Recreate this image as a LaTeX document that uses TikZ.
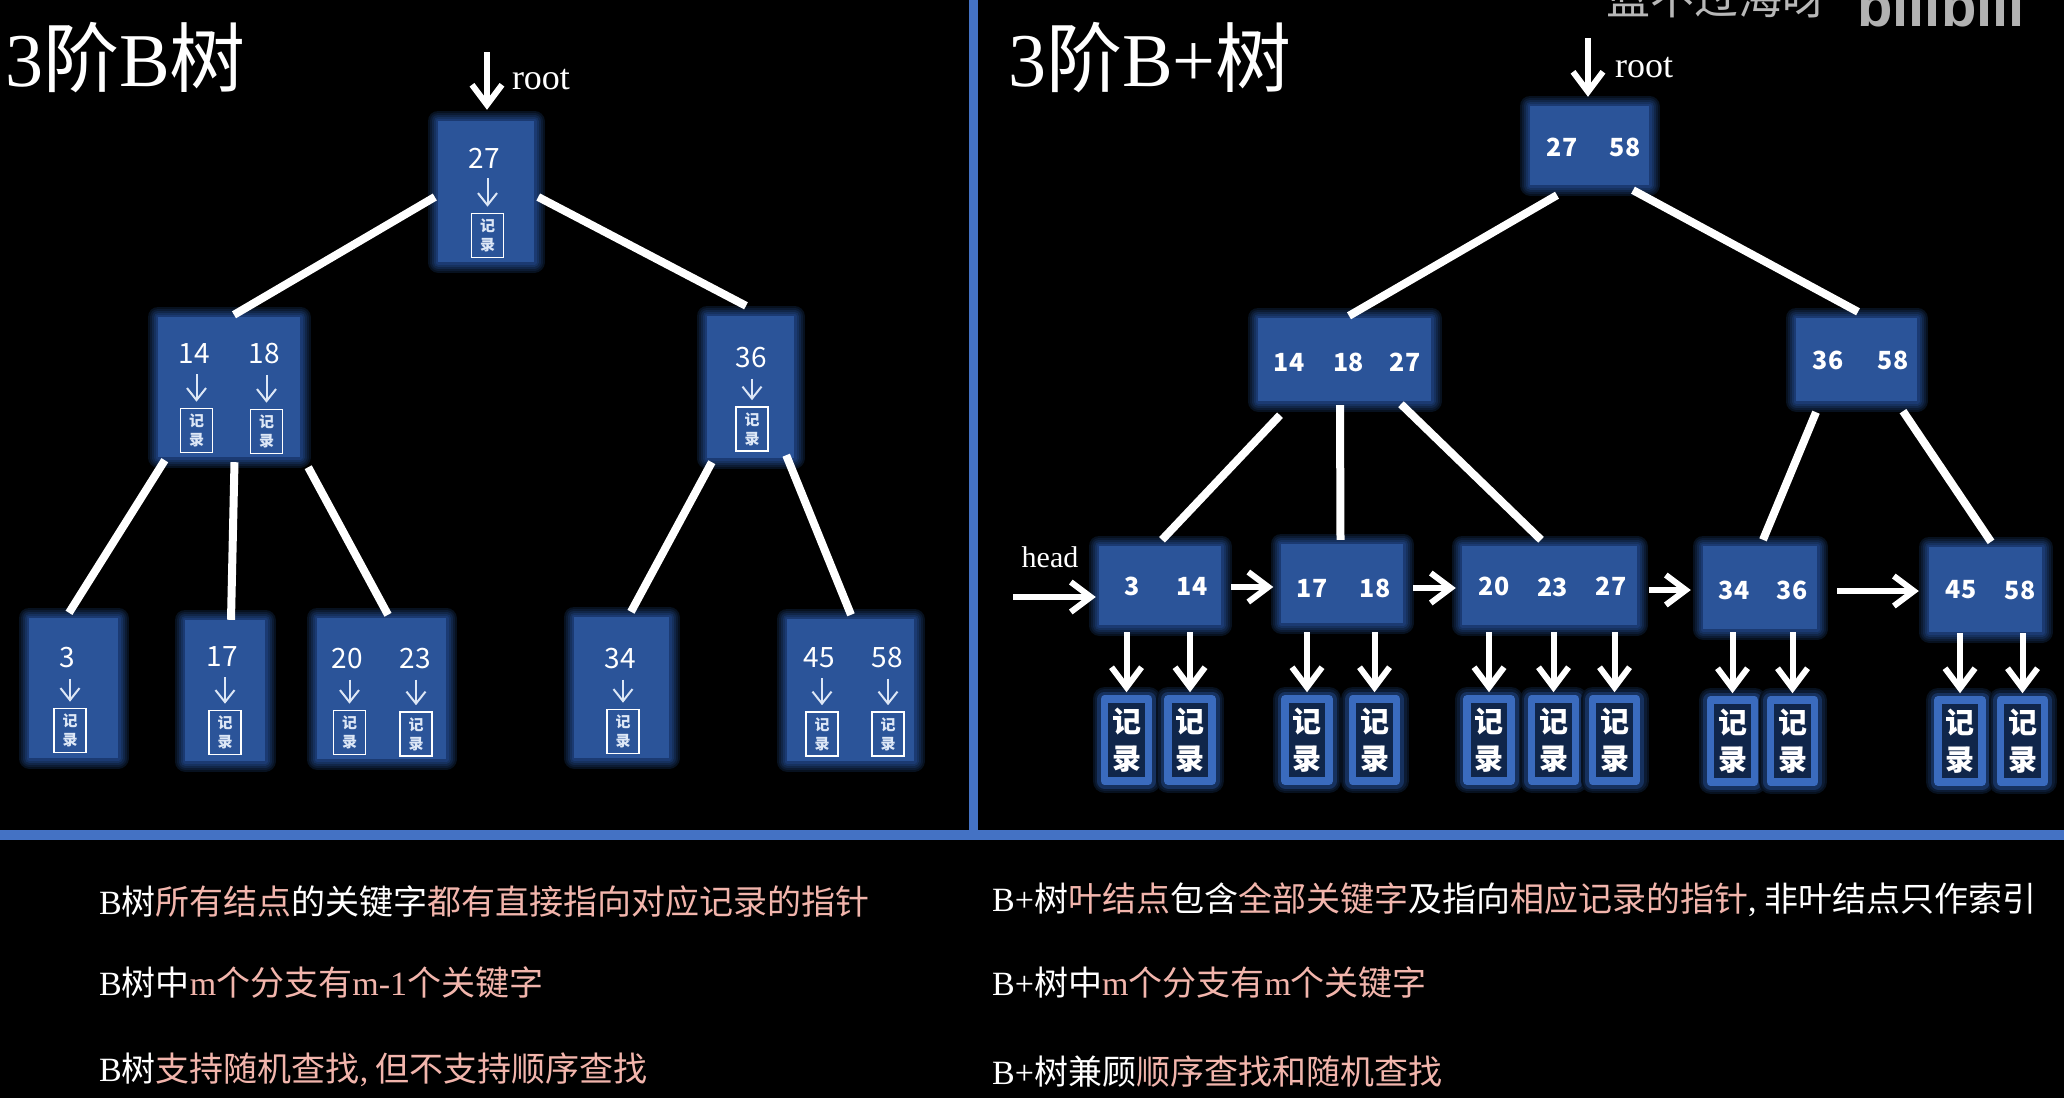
\documentclass[tikz,border=0pt]{standalone}
\usepackage{fontspec}
\usepackage{xcolor}
\usetikzlibrary{arrows.meta}
\setmainfont{Noto Sans CJK SC}
\newfontfamily\lat{Liberation Serif}
\newfontfamily\logofont{Liberation Sans}
\definecolor{nodeblue}{HTML}{2B5499}
\definecolor{glowa}{HTML}{07111F}
\definecolor{glowb}{HTML}{0C1B33}
\definecolor{glowc}{HTML}{112648}
\definecolor{glowd}{HTML}{16315E}
\definecolor{glowe}{HTML}{1B3A72}
\definecolor{framecol}{HTML}{4472C4}
\definecolor{recedge}{HTML}{3A6BBE}
\definecolor{recfill}{HTML}{10264A}
\definecolor{pinktext}{HTML}{F2B5AC}
\definecolor{ptrcol}{HTML}{DDE7F6}
\newcommand{\pk}[1]{\textcolor{pinktext}{#1}}
\tikzset{
  keybox/.style={fill=nodeblue,inner sep=0pt,line join=round,
    preaction={draw=glowa,line width=21pt},
    preaction={draw=glowb,line width=17pt},
    preaction={draw=glowc,line width=13pt},
    preaction={draw=glowd,line width=9pt},
    preaction={draw=glowe,line width=5pt}},
  keytext/.style={text=white,inner sep=0pt,font=\fontsize{28}{30}\selectfont},
  idxtext/.style={text=white,inner sep=0pt,font=\bfseries\fontsize{25}{28}\selectfont},
  recsmall/.style={draw=white,line width=1.6pt,minimum width=32pt,minimum height=44pt,inner sep=0pt,
    align=center,text=ptrcol,font=\bfseries\fontsize{15}{19}\selectfont},
  recbig/.style={draw=recedge,fill=recfill,line width=7.5pt,minimum width=44pt,minimum height=82pt,inner sep=0pt,
    align=center,text=white,line join=round,font=\bfseries\fontsize{29}{37}\selectfont,
    preaction={draw=glowa,line width=24pt},
    preaction={draw=glowb,line width=20pt},
    preaction={draw=glowd,line width=15pt}},
  treeedge/.style={draw=white,line width=8pt},
  thinptr/.style={draw=ptrcol,line width=2pt,shorten <=10pt,shorten >=6pt,-{Straight Barb[length=12pt,width=19pt]}},
  fatptr/.style={draw=white,line width=6pt,-{Straight Barb[length=20pt,width=30pt]}},
  downptr/.style={fatptr,shorten >=3pt},
  note/.style={anchor=west,inner sep=0pt,text=white,font=\fontsize{34}{40}\selectfont},
  titletext/.style={anchor=west,inner sep=0pt,text=white,font=\fontsize{76}{84}\selectfont},
  latlabel/.style={inner sep=0pt,text=white,font=\lat\fontsize{36}{40}\selectfont},
}
\begin{document}
\begin{tikzpicture}[x=1pt,y=-1pt]
	\useasboundingbox (0,0) rectangle (2064,1098);
	\fill[black] (0,0) rectangle (2064,1098);

	% frame lines
	\fill[framecol] (969,0) rectangle (978,835);
	\fill[framecol] (0,830) rectangle (2064,840);

	% titles and marks
	\node[titletext] (titleb) at (5,58) {{\lat 3}阶{\lat B}树};
	\node[titletext] (titleplus) at (1008,58) {{\lat 3}阶{\lat B+}树};
	\node[inner sep=0pt,anchor=west,text=white!72!black,font=\fontsize{44}{48}\selectfont] (mark) at (1606,-2) {蓝不过海呀};
	\node[inner sep=0pt,anchor=base west,text=white!70!black,font=\logofont\bfseries\fontsize{58}{60}\selectfont] (logo) at (1857,26) {bilibili};

	% left tree, nodes
	\node[keybox,minimum width=96pt,minimum height=141pt] (b27) at (486,191.5) {};
	\node[keybox,minimum width=142pt,minimum height=140pt] (b1418) at (229,387) {};
	\node[keybox,minimum width=87pt,minimum height=142pt] (b36) at (750.5,387) {};
	\node[keybox,minimum width=89pt,minimum height=140pt] (b3) at (73.5,688) {};
	\node[keybox,minimum width=80pt,minimum height=141pt] (b17) at (225,690.5) {};
	\node[keybox,minimum width=129pt,minimum height=141pt] (b2023) at (381.5,688.5) {};
	\node[keybox,minimum width=95pt,minimum height=141pt] (b34) at (621.5,687.5) {};
	\node[keybox,minimum width=127pt,minimum height=142pt] (b4558) at (850.5,690) {};

	% left tree, keys
	\node[keytext] (k27) at (484,158) {27};
	\node[keytext] (k14) at (194,354) {14};
	\node[keytext] (k18) at (264,354) {18};
	\node[keytext] (k36) at (751,358) {36};
	\node[keytext] (k3) at (67,658) {3};
	\node[keytext] (k17) at (222,657) {17};
	\node[keytext] (k20) at (347,659) {20};
	\node[keytext] (k23) at (415,659) {23};
	\node[keytext] (k34) at (620,659) {34};
	\node[keytext] (k45) at (819,658) {45};
	\node[keytext] (k58) at (887,658) {58};

	% left tree, records
	\node[recsmall] (r27) at (487.5,235.5) {记\\录};
	\node[recsmall] (r14) at (196.5,430.5) {记\\录};
	\node[recsmall] (r18) at (266.5,431.5) {记\\录};
	\node[recsmall] (r36) at (752,429) {记\\录};
	\node[recsmall] (r3) at (70,730.5) {记\\录};
	\node[recsmall] (r17) at (225,732.5) {记\\录};
	\node[recsmall] (r20) at (349.5,732.5) {记\\录};
	\node[recsmall] (r23) at (416,734) {记\\录};
	\node[recsmall] (r34) at (623,731.5) {记\\录};
	\node[recsmall] (r45) at (822,734) {记\\录};
	\node[recsmall] (r58) at (888,734) {记\\录};

	% left tree, pointers
	\draw[thinptr] (k27.south -| r27.north) -- (r27.north);
	\draw[thinptr] (k14.south -| r14.north) -- (r14.north);
	\draw[thinptr] (k18.south -| r18.north) -- (r18.north);
	\draw[thinptr] (k36.south -| r36.north) -- (r36.north);
	\draw[thinptr] (k3.south -| r3.north) -- (r3.north);
	\draw[thinptr] (k17.south -| r17.north) -- (r17.north);
	\draw[thinptr] (k20.south -| r20.north) -- (r20.north);
	\draw[thinptr] (k23.south -| r23.north) -- (r23.north);
	\draw[thinptr] (k34.south -| r34.north) -- (r34.north);
	\draw[thinptr] (k45.south -| r45.north) -- (r45.north);
	\draw[thinptr] (k58.south -| r58.north) -- (r58.north);

	% left tree, edges
	\draw[treeedge] ([xshift=-3pt,yshift=-5.5pt]b27.west) -- ([xshift=5pt,yshift=2pt]b1418.north);
	\draw[treeedge] ([xshift=4pt,yshift=-5.5pt]b27.east) -- ([xshift=-4.5pt,yshift=10pt]b36.north);
	\draw[treeedge] ([xshift=7pt,yshift=-3pt]b1418.south west) -- ([xshift=-4.5pt,yshift=5pt]b3.north);
	\draw[treeedge] ([xshift=5.5pt,yshift=-5pt]b1418.south) -- ([xshift=6pt]b17.north);
	\draw[treeedge] ([xshift=8pt,yshift=-10pt]b1418.south east) -- ([xshift=6.5pt,yshift=3pt]b2023.north);
	\draw[treeedge] ([xshift=5pt,yshift=-4pt]b36.south west) -- ([xshift=9.5pt,yshift=5pt]b34.north);
	\draw[treeedge] ([xshift=-8pt,yshift=3pt]b36.south east) -- ([xshift=0.5pt,yshift=4pt]b4558.north);

	% root arrows
	\node[latlabel] (rootb) at (541,80) {root};
	\coordinate (rootbin) at (487,52);
	\draw[fatptr] (rootbin) -- ([xshift=1pt,yshift=11pt]b27.north);

	% right tree, nodes
	\node[keybox,minimum width=119pt,minimum height=79pt] (p2758) at (1589.5,145.5) {};
	\node[keybox,minimum width=173pt,minimum height=83pt] (p141827) at (1344.5,359.5) {};
	\node[keybox,minimum width=121pt,minimum height=83pt] (p3658) at (1856.5,359.5) {};
	\node[keybox,minimum width=122pt,minimum height=79pt] (q314) at (1160,585.5) {};
	\node[keybox,minimum width=122pt,minimum height=79pt] (q1718) at (1342,583.5) {};
	\node[keybox,minimum width=175pt,minimum height=79pt] (q202327) at (1549.5,585.5) {};
	\node[keybox,minimum width=114pt,minimum height=83pt] (q3436) at (1760,587.5) {};
	\node[keybox,minimum width=113pt,minimum height=85pt] (q4558) at (1985.5,589.5) {};

	% right tree, keys
	\node[idxtext] (i27) at (1562,147) {27};
	\node[idxtext] (i58) at (1625,147) {58};
	\node[idxtext] (j14) at (1289,362) {14};
	\node[idxtext] (j18) at (1348.5,362) {18};
	\node[idxtext] (j27) at (1405,362) {27};
	\node[idxtext] (j36) at (1828,360) {36};
	\node[idxtext] (j58) at (1893,360) {58};
	\node[idxtext] (l3) at (1132,586) {3};
	\node[idxtext] (l14) at (1192,586) {14};
	\node[idxtext] (l17) at (1312,588) {17};
	\node[idxtext] (l18) at (1375,588) {18};
	\node[idxtext] (l20) at (1494,586) {20};
	\node[idxtext] (l23) at (1552.5,587) {23};
	\node[idxtext] (l27) at (1611,586) {27};
	\node[idxtext] (l34) at (1734,590) {34};
	\node[idxtext] (l36) at (1792,590) {36};
	\node[idxtext] (l45) at (1961,590) {45};
	\node[idxtext] (l58) at (2020,590) {58};

	% right tree, records
	\node[recbig] (s3) at (1126.5,740) {记\\录};
	\node[recbig] (s14) at (1190,740) {记\\录};
	\node[recbig] (s17) at (1307,740) {记\\录};
	\node[recbig] (s18) at (1374.5,740) {记\\录};
	\node[recbig] (s20) at (1489,740) {记\\录};
	\node[recbig] (s23) at (1553.5,740) {记\\录};
	\node[recbig] (s27) at (1614.5,740) {记\\录};
	\node[recbig] (s34) at (1732.5,741) {记\\录};
	\node[recbig] (s36) at (1792.5,741) {记\\录};
	\node[recbig] (s45) at (1960,741) {记\\录};
	\node[recbig] (s58) at (2022.5,741) {记\\录};

	% right tree, down arrows
	\draw[downptr] ([yshift=-7pt]q314.south -| s3.north) -- (s3.north);
	\draw[downptr] ([yshift=-7pt]q314.south -| s14.north) -- (s14.north);
	\draw[downptr] ([yshift=-9pt]q1718.south -| s17.north) -- (s17.north);
	\draw[downptr] ([yshift=-9pt]q1718.south -| s18.north) -- (s18.north);
	\draw[downptr] ([yshift=-7pt]q202327.south -| s20.north) -- (s20.north);
	\draw[downptr] ([yshift=-7pt]q202327.south -| s23.north) -- (s23.north);
	\draw[downptr] ([yshift=-7pt]q202327.south -| s27.north) -- (s27.north);
	\draw[downptr] ([yshift=-3pt]q3436.south -| s34.north) -- (s34.north);
	\draw[downptr] ([yshift=-3pt]q3436.south -| s36.north) -- (s36.north);
	\draw[downptr] ([yshift=-1pt]q4558.south -| s45.north) -- (s45.north);
	\draw[downptr] ([yshift=-1pt]q4558.south -| s58.north) -- (s58.north);

	% right tree, edges
	\draw[treeedge] ([xshift=-32.5pt,yshift=-10pt]p2758.south) -- ([xshift=4.5pt,yshift=2pt]p141827.north);
	\draw[treeedge] ([xshift=43.5pt,yshift=-5pt]p2758.south) -- ([xshift=1.5pt,yshift=6pt]p3658.north);
	\draw[treeedge] ([xshift=-64.5pt,yshift=-14pt]p141827.south) -- ([xshift=2pt,yshift=6pt]q314.north);
	\draw[treeedge] ([xshift=-4.5pt,yshift=-4pt]p141827.south) -- ([xshift=-1.5pt,yshift=4pt]q1718.north);
	\draw[treeedge] ([xshift=56.5pt,yshift=-3pt]p141827.south) -- ([xshift=-8.5pt,yshift=6pt]q202327.north);
	\draw[treeedge] ([xshift=-40.5pt,yshift=-11pt]p3658.south) -- ([xshift=3pt,yshift=6pt]q3436.north);
	\draw[treeedge] ([xshift=46.5pt,yshift=-10pt]p3658.south) -- ([xshift=5.5pt,yshift=5pt]q4558.north);

	% right tree, root and leaf chain
	\node[latlabel] (rootp) at (1644,68) {root};
	\coordinate (rootpin) at (1588,38);
	\draw[fatptr] (rootpin) -- ([xshift=-1.5pt,yshift=9pt]p2758.north);
	\node[latlabel,font=\lat\fontsize{30}{34}\selectfont] (head) at (1050,557) {head};
	\coordinate (headin) at (1013,597);
	\draw[fatptr] (headin) -- ([xshift=-3pt,yshift=-11.5pt]q314.west);
	\draw[fatptr] ([xshift=10pt,yshift=-1.5pt]q314.east) -- ([xshift=-7.5pt,yshift=-3.5pt]q1718.west);
	\draw[fatptr] ([xshift=10pt,yshift=-4.5pt]q1718.east) -- ([xshift=-6pt,yshift=-2.5pt]q202327.west);
	\draw[fatptr] ([xshift=12pt,yshift=-4.5pt]q202327.east) -- ([xshift=-12pt,yshift=-2.5pt]q3436.west);
	\draw[fatptr] ([xshift=20pt,yshift=-3.5pt]q3436.east) -- ([xshift=-10pt,yshift=-1.5pt]q4558.west);

	% notes
	\node[note] (n1) at (99,902) {{\lat B}树\pk{所有结点}的关键字\pk{都有直接指向对应记录的指针}};
	\node[note] (n2) at (99,983) {{\lat B}树中\pk{{\lat m}个分支有{\lat m-1}个关键字}};
	\node[note] (n3) at (99,1070) {{\lat B}树\pk{支持随机查找{\lat ,} 但不支持顺序查找}};
	\node[note] (n4) at (992,900) {{\lat B+}树\pk{叶结点}包含\pk{全部关键字}及指向\pk{相应记录的指针}{\lat ,} 非叶结点只作索引};
	\node[note] (n5) at (992,983) {{\lat B+}树中\pk{{\lat m}个分支有{\lat m}个关键字}};
	\node[note] (n6) at (992,1072) {{\lat B+}树兼顾\pk{顺序查找和随机查找}};
\end{tikzpicture}
\end{document}
